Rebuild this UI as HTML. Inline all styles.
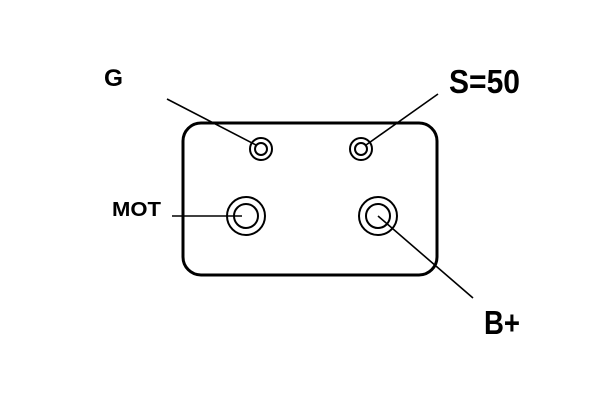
<!DOCTYPE html>
<html><head><style>body{margin:0;background:#fff}svg{display:block}</style></head><body>
<svg width="600" height="400" xmlns="http://www.w3.org/2000/svg" font-family="Liberation Sans, sans-serif" font-weight="bold">
<rect x="183" y="123" width="254" height="152" rx="18" fill="none" stroke="#000" stroke-width="3"/>
<g fill="none" stroke="#000">
<circle cx="261" cy="149" r="11" stroke-width="2"/><circle cx="261" cy="149" r="6" stroke-width="2"/>
<circle cx="361" cy="149" r="11" stroke-width="2"/><circle cx="361" cy="149" r="6" stroke-width="2"/>
<circle cx="246" cy="216" r="19" stroke-width="2"/><circle cx="246" cy="216" r="12" stroke-width="2"/>
<circle cx="378" cy="216" r="19" stroke-width="2"/><circle cx="378" cy="216" r="12" stroke-width="2"/>
<line x1="167" y1="99" x2="256" y2="145" stroke-width="1.6"/>
<line x1="438" y1="94" x2="366" y2="145" stroke-width="1.6"/>
<line x1="172" y1="216" x2="242" y2="216" stroke-width="1.6"/>
<line x1="378" y1="216" x2="473" y2="298" stroke-width="1.6"/>
</g>
<text x="104" y="86" font-size="24" textLength="19" lengthAdjust="spacingAndGlyphs">G</text>
<text x="449" y="93" font-size="33" textLength="71" lengthAdjust="spacingAndGlyphs">S=50</text>
<text x="112" y="216" font-size="20" textLength="49" lengthAdjust="spacingAndGlyphs">MOT</text>
<text x="484" y="334" font-size="33" textLength="36" lengthAdjust="spacingAndGlyphs">B+</text>
</svg>
</body></html>
